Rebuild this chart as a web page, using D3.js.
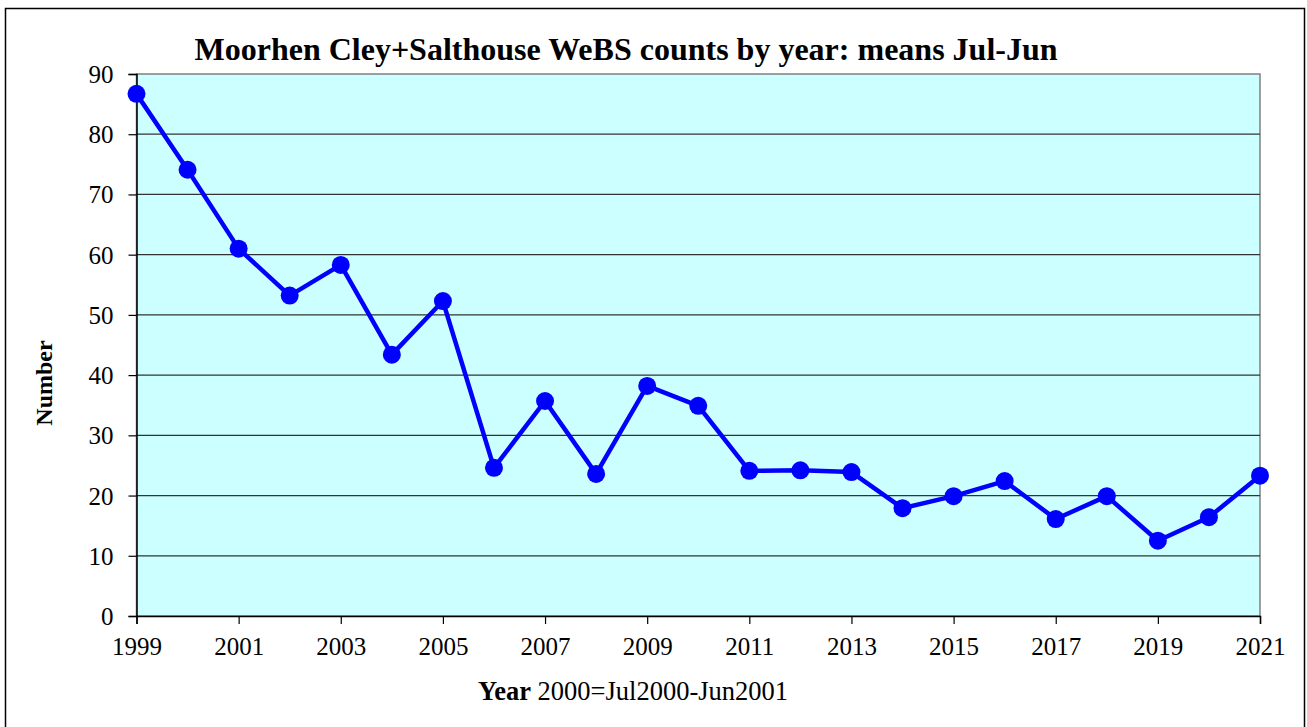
<!DOCTYPE html>
<html><head><meta charset="utf-8">
<script src="https://cdn.jsdelivr.net/npm/d3@7"></script>
<style>body{margin:0;background:#fff}svg{display:block}text{font-family:"Liberation Serif","Times New Roman",serif}</style>
</head><body><svg id="c" width="1307" height="727"></svg>
<script>
const years = [1999,2000,2001,2002,2003,2004,2005,2006,2007,2008,2009,2010,2011,2012,2013,2014,2015,2016,2017,2018,2019,2020,2021];
const values = [86.7,74.1,61.0,53.2,58.3,43.4,52.3,24.6,35.7,23.6,38.2,34.9,24.1,24.2,23.9,17.9,19.9,22.4,16.1,19.9,12.5,16.4,23.3];
const yTicks = [0,10,20,30,40,50,60,70,80,90];
const xTicks = [1999,2001,2003,2005,2007,2009,2011,2013,2015,2017,2019,2021];
const title = "Moorhen Cley+Salthouse WeBS counts by year: means Jul-Jun";

const svg = d3.select("#c");
const L=136.5, R=1260, T=74, B=616;
const x = d3.scaleLinear().domain([1999,2021]).range([L,R]);
const y = d3.scaleLinear().domain([0,90]).range([B,T]);

svg.append("rect").attr("x",5.5).attr("y",8.5).attr("width",1299).attr("height",740)
  .attr("fill","#fff").attr("stroke","#000").attr("stroke-width",1.5);

svg.append("rect").attr("x",L).attr("y",T).attr("width",R-L).attr("height",B-T)
  .attr("fill","#ccffff").attr("stroke","#808080").attr("stroke-width",1.5);

svg.append("g").selectAll("line").data(yTicks.filter(d=>d>0&&d<90)).join("line")
  .attr("x1",L).attr("x2",R).attr("y1",d=>y(d)).attr("y2",d=>y(d))
  .attr("stroke","#333").attr("stroke-width",1.2);

const ya = svg.append("g").attr("transform",`translate(${L},0)`)
  .call(d3.axisLeft(y).tickValues(yTicks).tickSize(8).tickPadding(15));
ya.select(".domain").attr("stroke","#000").attr("stroke-width",1.5);
ya.selectAll(".tick line").attr("stroke","#000").attr("stroke-width",1.2);
ya.selectAll("text").attr("font-size",25).attr("fill","#000").attr("dy","0.34em");

const xa = svg.append("g").attr("transform",`translate(0,${B})`)
  .call(d3.axisBottom(x).tickValues(xTicks).tickFormat(d3.format("d")).tickSize(8).tickPadding(14));
xa.select(".domain").attr("stroke","#000").attr("stroke-width",1.5);
xa.selectAll(".tick line").attr("stroke","#000").attr("stroke-width",1.2);
xa.selectAll("text").attr("font-size",25).attr("fill","#000").attr("dy","0.68em");

const line = d3.line().x((d,i)=>x(years[i])).y(d=>y(d));
svg.append("path").datum(values).attr("d",line).attr("fill","none")
  .attr("stroke","#0000ff").attr("stroke-width",4.5).attr("stroke-linejoin","round");
svg.append("g").selectAll("circle").data(values).join("circle")
  .attr("cx",(d,i)=>x(years[i])).attr("cy",d=>y(d)).attr("r",9).attr("fill","#0000ff");

svg.append("text").attr("x",626).attr("y",60).attr("text-anchor","middle")
  .attr("font-size",32).attr("font-weight","bold").text(title);

svg.append("text").attr("transform","translate(52,383) rotate(-90)").attr("text-anchor","middle")
  .attr("font-size",24).attr("font-weight","bold").text("Number");

const xt = svg.append("text").attr("x",633).attr("y",700).attr("text-anchor","middle").attr("font-size",26.5);
xt.append("tspan").attr("font-weight","bold").text("Year");
xt.append("tspan").text(" 2000=Jul2000-Jun2001");
</script></body></html>
